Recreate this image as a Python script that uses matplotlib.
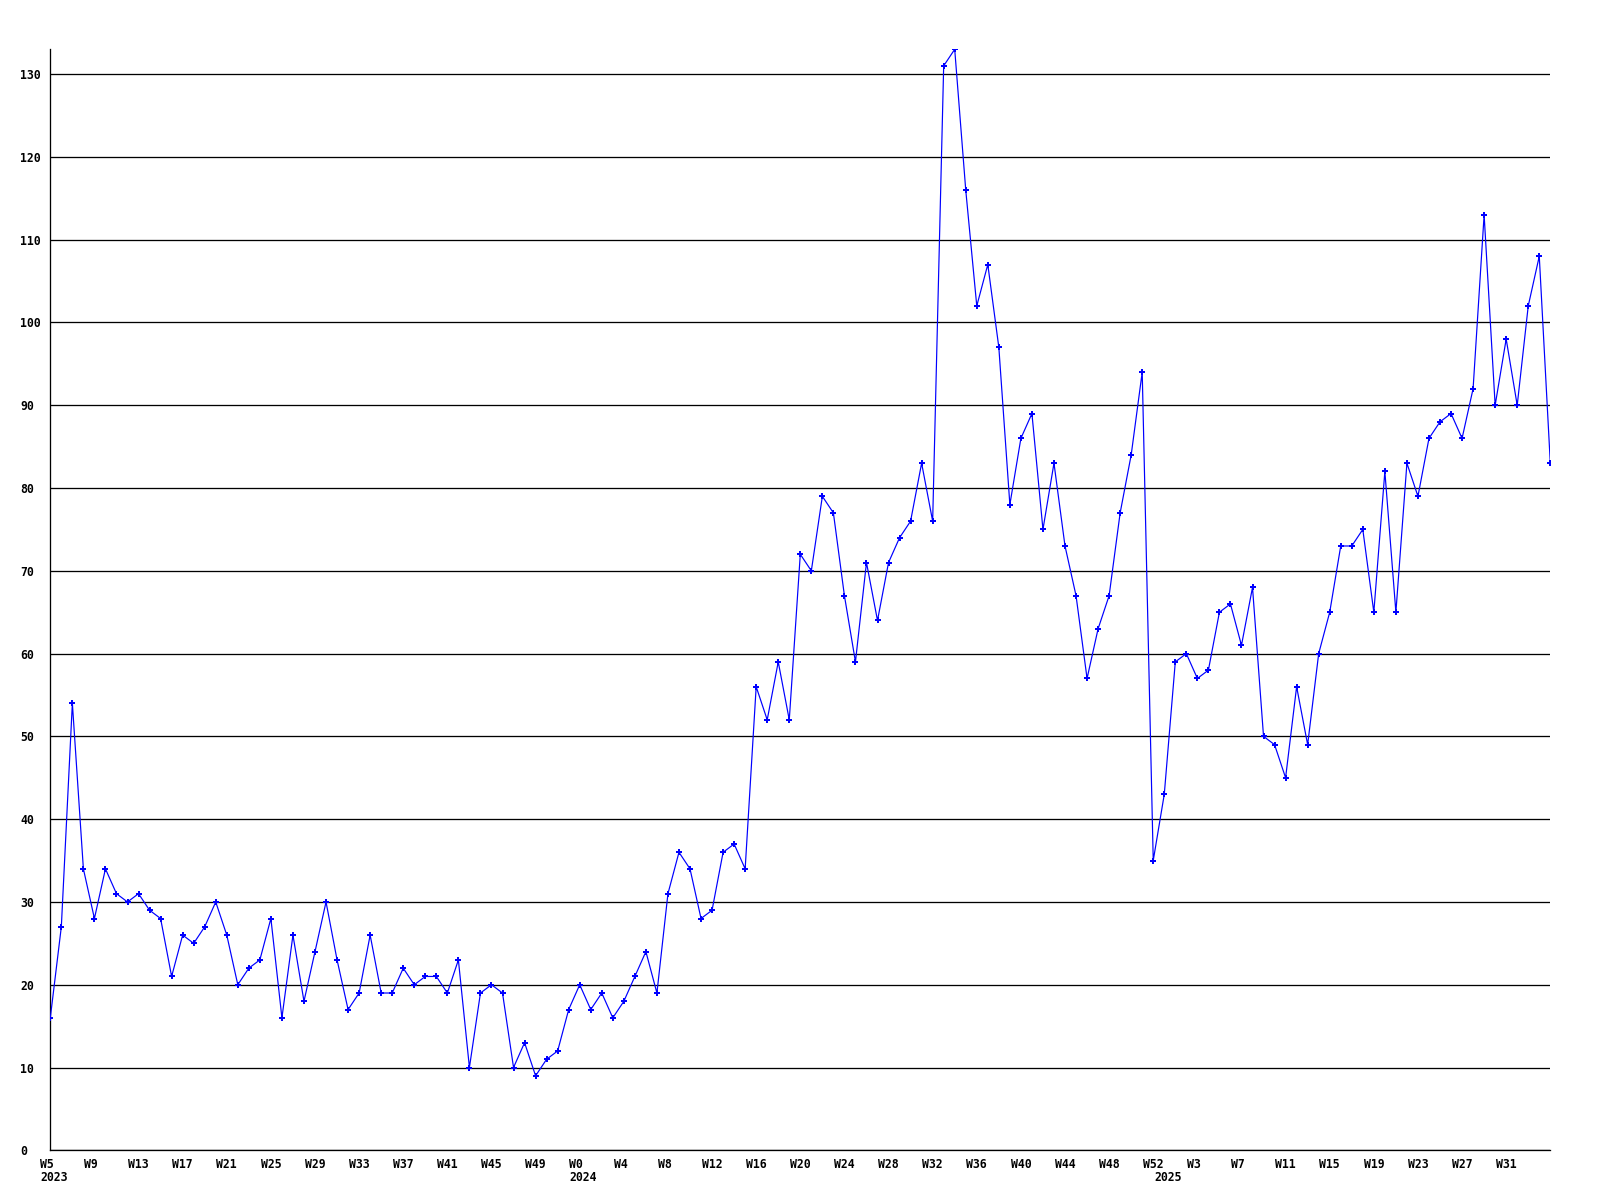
import matplotlib
matplotlib.use("Agg")
import matplotlib.pyplot as plt
from matplotlib.transforms import ScaledTranslation, blended_transform_factory

# ---- data ----
years = ["2023", "2024", "2025"]
weeks_2023 = list(range(5, 53))
weeks_2024 = list(range(0, 53))
weeks_2025 = list(range(0, 36))

values_2023 = [16, 27, 54, 34, 28, 34, 31, 30, 31, 29,
               28, 21, 26, 25, 27, 30, 26, 20, 22, 23,
               28, 16, 26, 18, 24, 30, 23, 17, 19, 26,
               19, 19, 22, 20, 21, 21, 19, 23, 10, 19,
               20, 19, 10, 13, 9, 11, 12, 17]
values_2024 = [20, 17, 19, 16, 18, 21, 24, 19, 31, 36,
               34, 28, 29, 36, 37, 34, 56, 52, 59, 52,
               72, 70, 79, 77, 67, 59, 71, 64, 71, 74,
               76, 83, 76, 131, 133, 116, 102, 107, 97, 78,
               86, 89, 75, 83, 73, 67, 57, 63, 67, 77,
               84, 94, 35]
values_2025 = [43, 59, 60, 57, 58, 65, 66, 61, 68, 50,
               49, 45, 56, 49, 60, 65, 73, 73, 75, 65,
               82, 65, 83, 79, 86, 88, 89, 86, 92, 113,
               90, 98, 90, 102, 108, 83]

y_ticks = [0, 10, 20, 30, 40, 50, 60, 70, 80, 90, 100, 110, 120, 130]

# ---- assemble ----
weeks = weeks_2023 + weeks_2024 + weeks_2025
values = values_2023 + values_2024 + values_2025
year_starts = [0, len(weeks_2023), len(weeks_2023) + len(weeks_2024)]
x = list(range(len(values)))

DPI = 100
fig = plt.figure(figsize=(16, 12), dpi=DPI)
ax = fig.add_axes([50.3 / 1600, 49.7 / 1200, 1500 / 1600, (1150.5 - 49.5) / 1200])

FONT = dict(family="DejaVu Sans Mono", fontweight="bold", fontsize=8.3)
px = 1 / DPI * 72  # one pixel in points

ax.plot(x, values, color="#0000ff", linewidth=1.0 * px * 1.2,
        marker="P", markersize=4.2, markeredgewidth=0, zorder=3)

ax.set_xlim(0, len(values) - 1)
ax.set_ylim(0, max(values))

# spines
for s in ["top", "right"]:
    ax.spines[s].set_visible(False)
for s in ["left", "bottom"]:
    ax.spines[s].set_color("black")
    ax.spines[s].set_linewidth(1.3 * px)

# y axis
ax.set_yticks(y_ticks)
ax.set_yticklabels([str(v) for v in y_ticks], **FONT)
ax.tick_params(axis="y", length=0, pad=30.3 * px)
for lab in ax.get_yticklabels():
    lab.set_horizontalalignment("left")
ax.yaxis.grid(True, color="black", linewidth=1.3 * px)
ax.set_axisbelow(True)

# x axis
tick_idx = list(range(0, len(values) - 1, 4))
ax.set_xticks(tick_idx)
ax.set_xticklabels(["W%d" % weeks[i] for i in tick_idx], **FONT)
ax.tick_params(axis="x", length=0, pad=7.5 * px)
shift = ScaledTranslation(-10.3 / DPI, 0, fig.dpi_scale_trans)
for lab in ax.get_xticklabels():
    lab.set_horizontalalignment("left")
    lab.set_transform(lab.get_transform() + shift)

trans = blended_transform_factory(ax.transData, ax.transAxes)
yshift = ScaledTranslation(-10.3 / DPI, -27.0 / DPI, fig.dpi_scale_trans)
for yr, i in zip(years, year_starts):
    ax.text(i, 0, yr, transform=trans + yshift, ha="left", va="center", **FONT)

fig.savefig("out.png", dpi=DPI, facecolor="white")
